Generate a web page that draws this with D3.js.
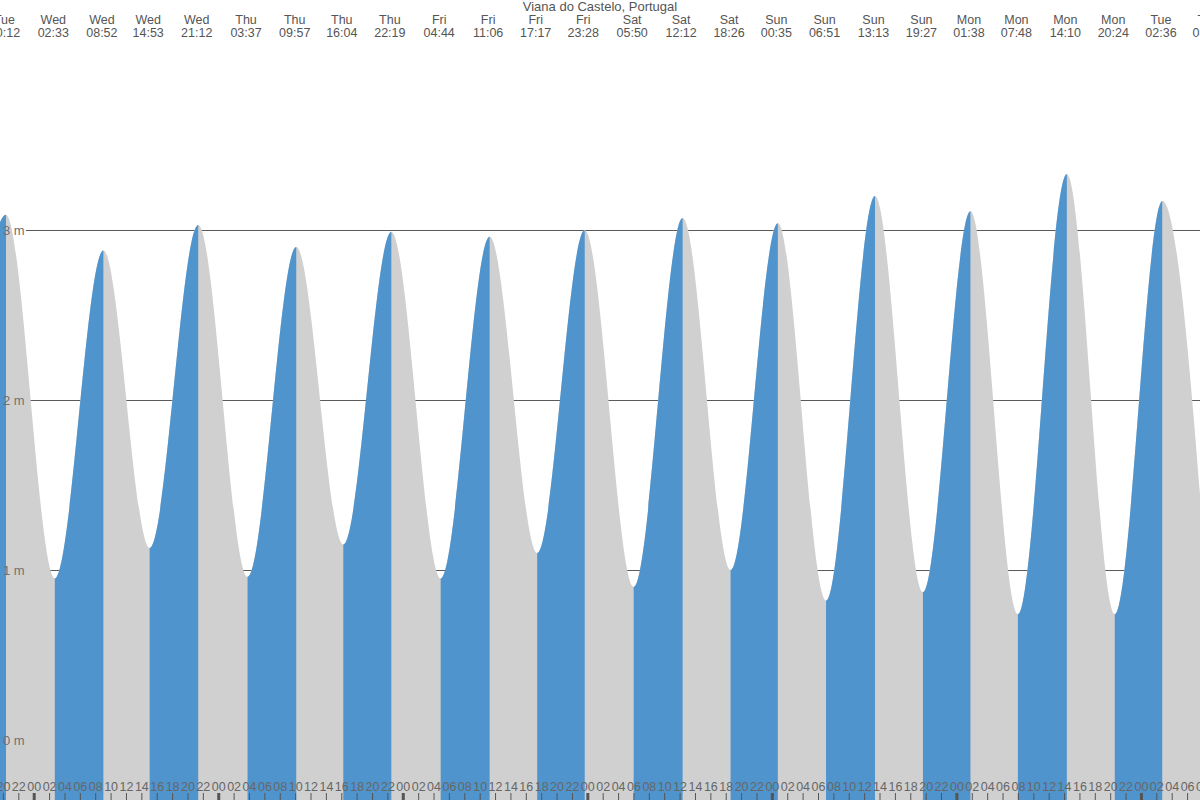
<!DOCTYPE html>
<html>
<head>
<meta charset="utf-8">
<script src="https://cdn.jsdelivr.net/npm/d3@7"></script>
<style>
  html, body { margin: 0; padding: 0; background: #fff; }
  svg { display: block; font-family: "Liberation Sans", Arial, sans-serif; }
</style>
</head>
<body>
<svg id="chart" width="1200" height="800"></svg>
<script>
// ---- Data (tide extremes, Viana do Castelo) ----
const title = "Viana do Castelo, Portugal";
const tideDays    = ["Tue","Tue","Wed","Wed","Wed","Wed","Thu","Thu","Thu","Thu","Fri","Fri","Fri","Fri","Sat","Sat","Sat","Sun","Sun","Sun","Sun","Mon","Mon","Mon","Mon","Tue","Tue"];
const tideTimes   = ["13:58","20:12","02:33","08:52","14:53","21:12","03:37","09:57","16:04","22:19","04:44","11:06","17:17","23:28","05:50","12:12","18:26","00:35","06:51","13:13","19:27","01:38","07:48","14:10","20:24","02:36","08:44"];
const tideHeights = [1.12, 3.09, 0.95, 2.88, 1.13, 3.03, 0.96, 2.90, 1.15, 2.99, 0.95, 2.96, 1.10, 3.00, 0.90, 3.07, 1.00, 3.04, 0.82, 3.20, 0.87, 3.11, 0.74, 3.33, 0.74, 3.17, 0.70];
const firstDayIndex = -1;            // first "Tue" is the day before Wednesday 00:00
const yTicks = [0, 1, 2, 3];          // metres
const hourTickStep = 2;               // bottom labels every 2 hours
const viewHours = [-4.383, 151.68];   // visible window, hours from Wed 00:00

// ---- Derived records ----
let dayIdx = firstDayIndex;
const extremes = tideDays.map((d, i) => {
  if (i > 0 && d !== tideDays[i - 1]) dayIdx++;
  const [hh, mm] = tideTimes[i].split(":").map(Number);
  return { day: d, time: tideTimes[i], h: dayIdx * 24 + hh + mm / 60, v: tideHeights[i] };
});

const W = 1200, H = 800;
const svg = d3.select("#chart");

const x = d3.scaleLinear().domain(viewHours).range([0, W]);
const y = d3.scaleLinear().domain([0, 3]).range([740, 230]);

const blue = "#4f94cd", grey = "#d0d0d0";

// ---- Grid lines (behind the fill) ----
svg.append("g").selectAll("line").data(yTicks).join("line")
  .attr("x1", 26).attr("x2", W)
  .attr("y1", d => y(d) + 0.5).attr("y2", d => y(d) + 0.5)
  .attr("stroke", "#5a5a5a").attr("stroke-width", 1);

// ---- Tide area ----
const area = d3.area()
  .x(d => x(d.h))
  .y0(H)
  .y1(d => y(d.v))
  .curve(d3.curveMonotoneX);

const defs = svg.append("defs");
const rising = [];
for (let i = 0; i < extremes.length - 1; i++) {
  if (extremes[i + 1].v > extremes[i].v) rising.push([extremes[i].h, extremes[i + 1].h]);
}
defs.append("clipPath").attr("id", "risingClip")
  .selectAll("rect").data(rising).join("rect")
  .attr("x", d => x(d[0])).attr("width", d => x(d[1]) - x(d[0]))
  .attr("y", 0).attr("height", H);

const areaG = svg.append("g").attr("transform", "translate(1.5,0)");
areaG.append("path").datum(extremes).attr("d", area).attr("fill", grey);
areaG.append("path").datum(extremes).attr("d", area).attr("fill", blue)
  .attr("clip-path", "url(#risingClip)");

// ---- Y labels ----
svg.append("g").selectAll("text").data(yTicks).join("text")
  .attr("x", 3).attr("y", d => y(d)).attr("dy", "0.36em")
  .attr("font-size", 13).attr("fill", "#707070")
  .text(d => d + " m");

// ---- Bottom hour axis ----
const hourTicks = d3.range(Math.ceil(viewHours[0] / hourTickStep) * hourTickStep, viewHours[1] + 1, hourTickStep);
const axis = d3.axisTop(x)
  .tickValues(hourTicks)
  .tickSize(7).tickPadding(2)
  .tickFormat(h => d3.format("02d")(((h % 24) + 24) % 24));
const ax = svg.append("g").attr("transform", `translate(0,${H})`).call(axis);
ax.select(".domain").remove();
ax.selectAll(".tick line")
  .attr("stroke", "#555")
  .attr("stroke-width", h => (((h % 24) + 24) % 24) === 0 ? 3 : 1);
ax.selectAll(".tick text")
  .attr("fill", "#666").attr("font-size", 12.5)
  .attr("font-family", "Liberation Sans, Arial, sans-serif");

// ---- Top labels (tide extreme times) ----
const topG = svg.append("g").attr("font-size", 12.5).attr("fill", "#555").attr("text-anchor", "middle");
const lbl = topG.selectAll("g").data(extremes).join("g")
  .attr("transform", d => `translate(${x(d.h)},0)`);
lbl.append("text").attr("y", 24).text(d => d.day);
lbl.append("text").attr("y", 36.5).text(d => d.time);

// ---- Title ----
svg.append("text").attr("x", W / 2).attr("y", 10.5)
  .attr("text-anchor", "middle").attr("font-size", 13).attr("fill", "#555")
  .text(title);
</script>
</body>
</html>
